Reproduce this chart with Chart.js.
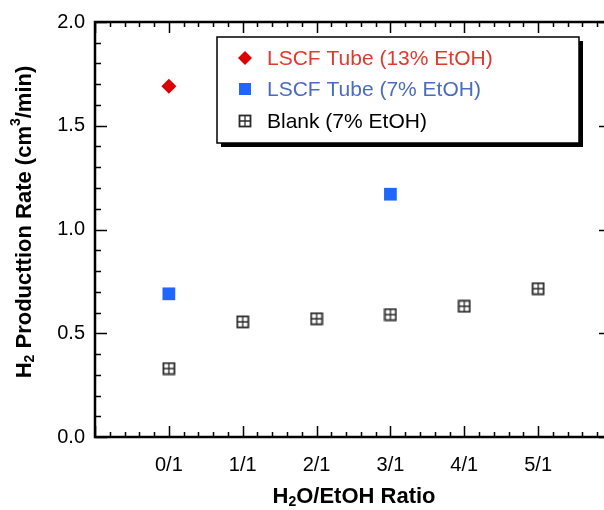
<!DOCTYPE html>
<html>
<head>
<meta charset="utf-8">
<script src="https://cdn.jsdelivr.net/npm/chart.js@4.4.0/dist/chart.umd.min.js"></script>
<style>
  html, body { margin: 0; padding: 0; background: #fff; overflow: hidden; }
</style>
</head>
<body>
<canvas id="chart" width="604" height="510"></canvas>
<script>
// data
const ratioLabels = ['0/1', '1/1', '2/1', '3/1', '4/1', '5/1'];
const tube13X = [0];
const tube13Y = [1.69];
const tube7X = [0, 3];
const tube7Y = [0.69, 1.17];
const blankX = [0, 1, 2, 3, 4, 5];
const blankY = [0.33, 0.555, 0.57, 0.59, 0.63, 0.715];
const seriesNames = ['LSCF Tube (13% EtOH)', 'LSCF Tube (7% EtOH)', 'Blank (7% EtOH)'];
const legendTextColors = ['#e03a2e', '#4a6cc0', '#000000'];

const FONT = '"Liberation Sans", Arial, sans-serif';

// open square with a cross inside, used for the blank runs
function crossBox() {
  const c = document.createElement('canvas');
  c.width = 14; c.height = 14;
  const g = c.getContext('2d');
  g.strokeStyle = '#2a2a2a';
  g.lineWidth = 1.8;
  g.strokeRect(1.5, 1.5, 11, 11);
  g.lineWidth = 1.3;
  g.beginPath();
  g.moveTo(7, 2); g.lineTo(7, 12);
  g.moveTo(2, 7); g.lineTo(12, 7);
  g.stroke();
  return c;
}
const crossImg = crossBox();

function pts(xs, ys) {
  return xs.map((x, i) => ({ x: x, y: ys[i] }));
}

// text with sub/superscripts
function richText(ctx, parts, size) {
  let w = 0;
  parts.forEach(p => {
    ctx.font = 'bold ' + (p.s ? Math.round(size * 0.62) : size) + 'px ' + FONT;
    p.w = ctx.measureText(p.t).width;
    w += p.w;
  });
  let x = -w / 2;
  parts.forEach(p => {
    ctx.font = 'bold ' + (p.s ? Math.round(size * 0.62) : size) + 'px ' + FONT;
    let dy = 0;
    if (p.s === 'sub') dy = size * 0.22;
    if (p.s === 'sup') dy = -size * 0.38;
    ctx.fillText(p.t, x, dy);
    x += p.w;
  });
}

const framePlugin = {
  id: 'frame',
  afterDraw(chart) {
    const ctx = chart.ctx;
    const a = chart.chartArea;
    const xs = chart.scales.x, ys = chart.scales.y;
    const edge = chart.width; // frame runs off the right side of the picture
    ctx.save();
    ctx.strokeStyle = '#000';
    ctx.lineWidth = 2.5;
    ctx.beginPath();
    ctx.moveTo(edge, a.top);
    ctx.lineTo(a.left, a.top);
    ctx.lineTo(a.left, a.bottom);
    ctx.lineTo(edge, a.bottom);
    ctx.stroke();

    // x ticks, bottom and top
    ctx.lineWidth = 1.5;
    ctx.beginPath();
    for (let i = 0; i <= 40; i++) {
      const v = -1 + i * 0.2;
      const px = Math.round(xs.getPixelForValue(v)) + 0.5;
      if (px > edge) break;
      const major = i % 5 === 0;
      const len = major ? 11 : 5;
      ctx.moveTo(px, a.bottom); ctx.lineTo(px, a.bottom - len);
      ctx.moveTo(px, a.top); ctx.lineTo(px, a.top + len);
    }
    // y ticks left, majors on right
    for (let i = 0; i <= 20; i++) {
      const v = i * 0.1;
      const py = Math.round(ys.getPixelForValue(v)) + 0.5;
      const major = i % 5 === 0;
      ctx.moveTo(a.left, py); ctx.lineTo(a.left + (major ? 12 : 6), py);
      if (major) { ctx.moveTo(edge, py); ctx.lineTo(edge - 5, py); }
    }
    ctx.stroke();

    // axis titles
    ctx.fillStyle = '#000';
    ctx.textBaseline = 'middle';
    ctx.textAlign = 'left';
    ctx.save();
    ctx.translate(354, 497);
    richText(ctx, [{ t: 'H' }, { t: '2', s: 'sub' }, { t: 'O/EtOH Ratio' }], 22);
    ctx.restore();
    ctx.save();
    ctx.translate(25, 222);
    ctx.rotate(-Math.PI / 2);
    richText(ctx, [{ t: 'H' }, { t: '2', s: 'sub' }, { t: ' Producttion Rate (cm' }, { t: '3', s: 'sup' }, { t: '/min)' }], 22);
    ctx.restore();

    // legend box with drop shadow
    const bx = 217, by = 37, bw = 362, bh = 106;
    ctx.fillStyle = '#000';
    ctx.fillRect(bx + 4, by + 4, bw, bh);
    ctx.fillStyle = '#fff';
    ctx.fillRect(bx, by, bw, bh);
    ctx.lineWidth = 1.5;
    ctx.strokeStyle = '#000';
    ctx.strokeRect(bx, by, bw, bh);

    const rows = [58, 89, 121];
    ctx.font = '21px ' + FONT;
    chart.data.datasets.forEach((ds, i) => {
      const cy = rows[i], cx = 245;
      if (ds.pointStyle === 'rectRot') {
        ctx.fillStyle = ds.backgroundColor;
        ctx.beginPath();
        ctx.moveTo(cx, cy - 7); ctx.lineTo(cx + 7, cy); ctx.lineTo(cx, cy + 7); ctx.lineTo(cx - 7, cy);
        ctx.closePath(); ctx.fill();
      } else if (ds.pointStyle === 'rect') {
        ctx.fillStyle = ds.backgroundColor;
        ctx.fillRect(cx - 6, cy - 6, 12, 12);
      } else {
        ctx.drawImage(crossImg, cx - 7, cy - 7);
      }
      ctx.fillStyle = legendTextColors[i];
      ctx.fillText(ds.label, 267, cy + 1);
    });
    ctx.restore();
  }
};

new Chart(document.getElementById('chart'), {
  type: 'scatter',
  data: {
    datasets: [
      { label: seriesNames[0], data: pts(tube13X, tube13Y), pointStyle: 'rectRot', pointRadius: 7.5,
        backgroundColor: '#dd0000', borderWidth: 0 },
      { label: seriesNames[1], data: pts(tube7X, tube7Y), pointStyle: 'rect', pointRadius: 9,
        backgroundColor: '#1f66ff', borderWidth: 0 },
      { label: seriesNames[2], data: pts(blankX, blankY), pointStyle: crossImg, pointRadius: 7 }
    ]
  },
  options: {
    responsive: false,
    animation: false,
    events: [],
    layout: { padding: { top: 22, right: 0, left: 0, bottom: 0 } },
    plugins: { legend: { display: false }, tooltip: { enabled: false } },
    scales: {
      x: {
        type: 'linear', min: -1, max: 5.77,
        grid: { display: false, drawTicks: false }, border: { display: false },
        afterFit: s => { s.height = 73; },
        ticks: {
          stepSize: 1, includeBounds: false, padding: 16, color: '#000', font: { family: FONT, size: 20 },
          callback: v => (ratioLabels[v] !== undefined ? ratioLabels[v] : '')
        }
      },
      y: {
        min: 0, max: 2,
        grid: { display: false, drawTicks: false }, border: { display: false },
        afterFit: s => { s.width = 95; },
        ticks: {
          stepSize: 0.5, padding: 10, color: '#000', font: { family: FONT, size: 20 },
          callback: v => v.toFixed(1)
        }
      }
    }
  },
  plugins: [framePlugin]
});
</script>
</body>
</html>
